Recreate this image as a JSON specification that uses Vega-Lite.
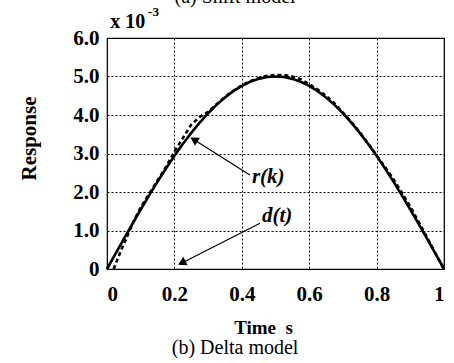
{
  "$schema": "https://vega.github.io/schema/vega-lite/v6.json",
  "width": 337,
  "height": 231,
  "autosize": {"type": "none"},
  "padding": {"left": 107, "top": 38, "right": 10, "bottom": 94},
  "background": "white",
  "config": {
    "view": {"stroke": "black", "strokeWidth": 1.2},
    "font": "Liberation Serif"
  },
  "datasets": {
    "solid": [
      {"t": 0, "v": 0}, {"t": 0.025, "v": 0.392}, {"t": 0.05, "v": 0.782}, {"t": 0.075, "v": 1.167},
      {"t": 0.1, "v": 1.545}, {"t": 0.125, "v": 1.913}, {"t": 0.15, "v": 2.27}, {"t": 0.175, "v": 2.612},
      {"t": 0.2, "v": 2.939}, {"t": 0.225, "v": 3.247}, {"t": 0.25, "v": 3.536}, {"t": 0.275, "v": 3.802},
      {"t": 0.3, "v": 4.045}, {"t": 0.325, "v": 4.263}, {"t": 0.35, "v": 4.455}, {"t": 0.375, "v": 4.619},
      {"t": 0.4, "v": 4.755}, {"t": 0.425, "v": 4.862}, {"t": 0.45, "v": 4.938}, {"t": 0.475, "v": 4.985},
      {"t": 0.5, "v": 5.0}, {"t": 0.525, "v": 4.985}, {"t": 0.55, "v": 4.938}, {"t": 0.575, "v": 4.862},
      {"t": 0.6, "v": 4.755}, {"t": 0.625, "v": 4.619}, {"t": 0.65, "v": 4.455}, {"t": 0.675, "v": 4.263},
      {"t": 0.7, "v": 4.045}, {"t": 0.725, "v": 3.802}, {"t": 0.75, "v": 3.536}, {"t": 0.775, "v": 3.247},
      {"t": 0.8, "v": 2.939}, {"t": 0.825, "v": 2.612}, {"t": 0.85, "v": 2.27}, {"t": 0.875, "v": 1.913},
      {"t": 0.9, "v": 1.545}, {"t": 0.925, "v": 1.167}, {"t": 0.95, "v": 0.782}, {"t": 0.975, "v": 0.392},
      {"t": 1.0, "v": 0}
    ],
    "dashed": [
      {"t": 0.02, "v": 0}, {"t": 0.04, "v": 0.45}, {"t": 0.06, "v": 0.85}, {"t": 0.08, "v": 1.25},
      {"t": 0.1, "v": 1.6}, {"t": 0.125, "v": 1.95}, {"t": 0.15, "v": 2.3}, {"t": 0.175, "v": 2.65},
      {"t": 0.2, "v": 3.05}, {"t": 0.225, "v": 3.4}, {"t": 0.25, "v": 3.75}, {"t": 0.275, "v": 3.95},
      {"t": 0.3, "v": 4.08}, {"t": 0.325, "v": 4.28}, {"t": 0.35, "v": 4.47}, {"t": 0.375, "v": 4.63},
      {"t": 0.4, "v": 4.77}, {"t": 0.425, "v": 4.88}, {"t": 0.45, "v": 4.96}, {"t": 0.475, "v": 5.02},
      {"t": 0.5, "v": 5.04}, {"t": 0.525, "v": 5.04}, {"t": 0.55, "v": 5.0}, {"t": 0.575, "v": 4.93},
      {"t": 0.6, "v": 4.8}, {"t": 0.625, "v": 4.66}, {"t": 0.65, "v": 4.5}, {"t": 0.675, "v": 4.3},
      {"t": 0.7, "v": 4.06}, {"t": 0.725, "v": 3.82}, {"t": 0.75, "v": 3.55}, {"t": 0.775, "v": 3.26},
      {"t": 0.8, "v": 2.95}, {"t": 0.825, "v": 2.65}, {"t": 0.85, "v": 2.33}, {"t": 0.875, "v": 1.98},
      {"t": 0.9, "v": 1.62}, {"t": 0.925, "v": 1.22}, {"t": 0.95, "v": 0.82}, {"t": 0.975, "v": 0.4},
      {"t": 1.0, "v": 0}
    ]
  },
  "encoding": {
    "x": {
      "field": "t", "type": "quantitative",
      "scale": {"domain": [0, 1], "nice": false},
      "axis": {
        "values": [0, 0.2, 0.4, 0.6, 0.8, 1],
        "tickCount": 12,
        "labelExpr": "datum.value == 0 ? '0' : datum.value == 1 ? '1' : format(datum.value, '.1f')",
        "labelFont": "Liberation Serif", "labelFontWeight": "bold", "labelFontSize": 21, "labelColor": "black",
        "labelPadding": 14, "ticks": false, "domain": false, "labelOverlap": false,
        "grid": true, "gridColor": "black", "gridDash": [2, 2], "gridWidth": 1, "gridOpacity": 1,
        "title": "Time\u00a0\u00a0s", "titleFont": "Liberation Serif", "titleFontWeight": "bold", "titleFontSize": 19,
        "titleColor": "black", "titleX": 156, "titleY": 64, "titleBaseline": "alphabetic", "titleAlign": "center"
      }
    },
    "y": {
      "field": "v", "type": "quantitative",
      "scale": {"domain": [0, 6], "nice": false},
      "axis": {
        "values": [0, 1, 2, 3, 4, 5, 6],
        "tickCount": 12,
        "labelExpr": "datum.value == 0 ? '0' : format(datum.value, '.1f')",
        "labelFont": "Liberation Serif", "labelFontWeight": "bold", "labelFontSize": 21, "labelColor": "black",
        "labelPadding": 8, "ticks": false, "domain": false, "labelOverlap": false,
        "grid": true, "gridColor": "black", "gridDash": [2, 2], "gridWidth": 1, "gridOpacity": 1,
        "title": "Response", "titleFont": "Liberation Serif", "titleFontWeight": "bold", "titleFontSize": 21,
        "titleColor": "black", "titleX": -72, "titleY": 100, "titleBaseline": "alphabetic", "titleAlign": "center", "titleAngle": -90
      }
    }
  },
  "layer": [
    {
      "data": {"name": "solid"},
      "mark": {"type": "line", "color": "black", "strokeWidth": 2.6}
    },
    {
      "data": {"name": "dashed"},
      "mark": {"type": "line", "color": "black", "strokeWidth": 2.6, "strokeDash": [4, 3]}
    },
    {
      "data": {"values": [{"t": 0.424, "v": 2.44, "t2": 0.262, "v2": 3.34}, {"t": 0.454, "v": 1.19, "t2": 0.228, "v2": 0.18}]},
      "mark": {"type": "rule", "color": "black", "strokeWidth": 1.2},
      "encoding": {
        "x2": {"field": "t2"},
        "y2": {"field": "v2"}
      }
    },
    {
      "data": {"values": [{"t": 0.258, "v": 3.36}]},
      "mark": {"type": "point", "shape": "triangle-up", "filled": true, "color": "black", "size": 90, "opacity": 1, "angle": 302}
    },
    {
      "data": {"values": [{"t": 0.222, "v": 0.16}]},
      "mark": {"type": "point", "shape": "triangle-up", "filled": true, "color": "black", "size": 90, "opacity": 1, "angle": 243}
    },
    {
      "data": {"values": [{"t": 0.43, "v": 2.23, "label": "r(k)"}, {"t": 0.46, "v": 1.22, "label": "d(t)"}]},
      "mark": {"type": "text", "align": "left", "baseline": "alphabetic", "font": "Liberation Serif", "fontWeight": "bold", "fontStyle": "italic", "fontSize": 21, "color": "black"},
      "encoding": {"text": {"field": "label"}}
    },
    {
      "data": {"values": [{"t": 0.01, "v": 6.26, "label": "x 10"}]},
      "mark": {"type": "text", "align": "left", "baseline": "alphabetic", "font": "Liberation Serif", "fontWeight": "bold", "fontSize": 20, "color": "black", "clip": false},
      "encoding": {"text": {"field": "label"}}
    },
    {
      "data": {"values": [{"t": 0.122, "v": 6.58, "label": "-3"}]},
      "mark": {"type": "text", "align": "left", "baseline": "alphabetic", "font": "Liberation Serif", "fontWeight": "bold", "fontSize": 13, "color": "black", "clip": false},
      "encoding": {"text": {"field": "label"}}
    },
    {
      "data": {"values": [{"t": 0.38, "v": 6.9, "label": "(a) Shift model"}, {"t": 0.38, "v": -2.2, "label": "(b) Delta model"}]},
      "mark": {"type": "text", "align": "center", "baseline": "alphabetic", "font": "Liberation Serif", "fontSize": 20, "color": "black", "clip": false},
      "encoding": {"text": {"field": "label"}}
    }
  ]
}
